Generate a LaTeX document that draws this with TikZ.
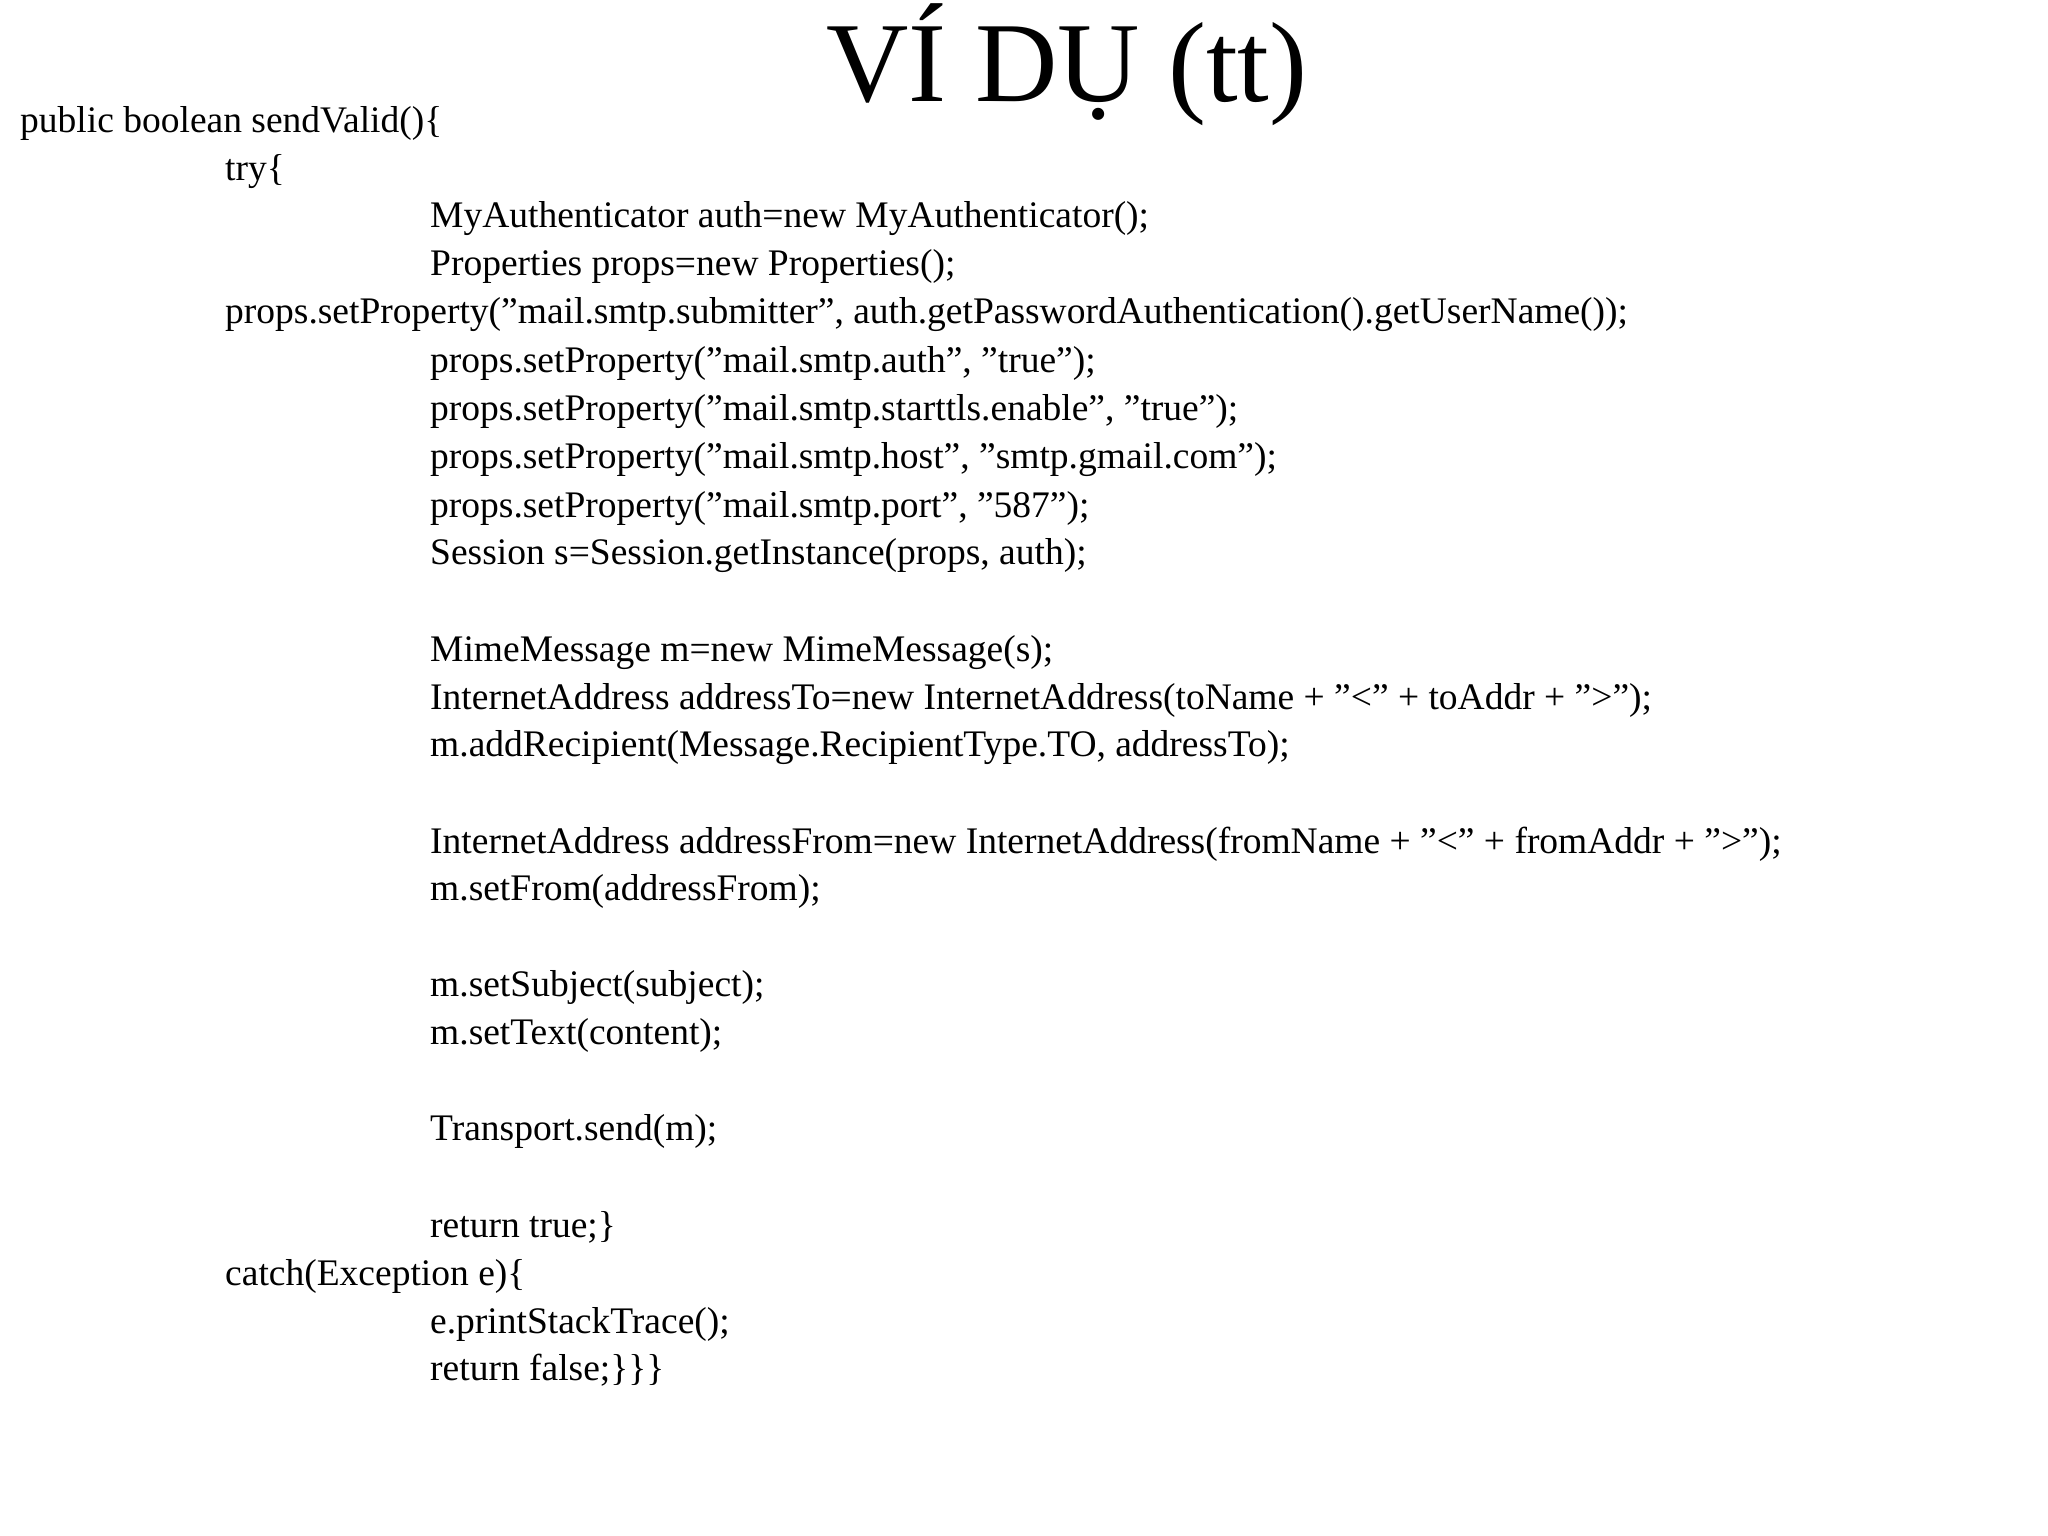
\documentclass[tikz,border=0pt]{standalone}
\usepackage{fontspec}
\setmainfont{Liberation Serif}
\begin{document}
\begin{tikzpicture}[x=1pt,y=-1pt,
  code/.style={anchor=base west,inner sep=0pt,font=\fontsize{37.5}{45}\selectfont},
  ttl/.style={anchor=base,inner sep=0pt,font=\fontsize{114}{130}\selectfont}]
\useasboundingbox (0,0) rectangle (2048,1536);
\node[ttl] (title) at (1067,102) {VÍ DỤ (tt)};
\def\A{20}\def\B{225}\def\C{430}
\node[code] (l1) at (\A,132) {public boolean sendValid()\{};
\node[code] (l2) at (\B,180) {try\{};
\node[code] (l3) at (\C,227) {MyAuthenticator auth=new MyAuthenticator();};
\node[code] (l4) at (\C,275) {Properties props=new Properties();};
\node[code] (l5) at (\B,323) {props.setProperty("mail.smtp.submitter", auth.getPasswordAuthentication().getUserName());};
\node[code] (l6) at (\C,372) {props.setProperty("mail.smtp.auth", "true");};
\node[code] (l7) at (\C,420) {props.setProperty("mail.smtp.starttls.enable", "true");};
\node[code] (l8) at (\C,468) {props.setProperty("mail.smtp.host", "smtp.gmail.com");};
\node[code] (l9) at (\C,517) {props.setProperty("mail.smtp.port", "587");};
\node[code] (l10) at (\C,564) {Session s=Session.getInstance(props, auth);};
\node[code] (l12) at (\C,661) {MimeMessage m=new MimeMessage(s);};
\node[code] (l13) at (\C,709) {InternetAddress addressTo=new InternetAddress(toName + "<" + toAddr + ">");};
\node[code] (l14) at (\C,756) {m.addRecipient(Message.RecipientType.TO, addressTo);};
\node[code] (l16) at (\C,853) {InternetAddress addressFrom=new InternetAddress(fromName + "<" + fromAddr + ">");};
\node[code] (l17) at (\C,900) {m.setFrom(addressFrom);};
\node[code] (l19) at (\C,996) {m.setSubject(subject);};
\node[code] (l20) at (\C,1044) {m.setText(content);};
\node[code] (l22) at (\C,1140) {Transport.send(m);};
\node[code] (l24) at (\C,1237) {return true;\}};
\node[code] (l25) at (\B,1285) {catch(Exception e)\{};
\node[code] (l26) at (\C,1333) {e.printStackTrace();};
\node[code] (l27) at (\C,1380) {return false;\}\}\}};
\end{tikzpicture}
\end{document}
